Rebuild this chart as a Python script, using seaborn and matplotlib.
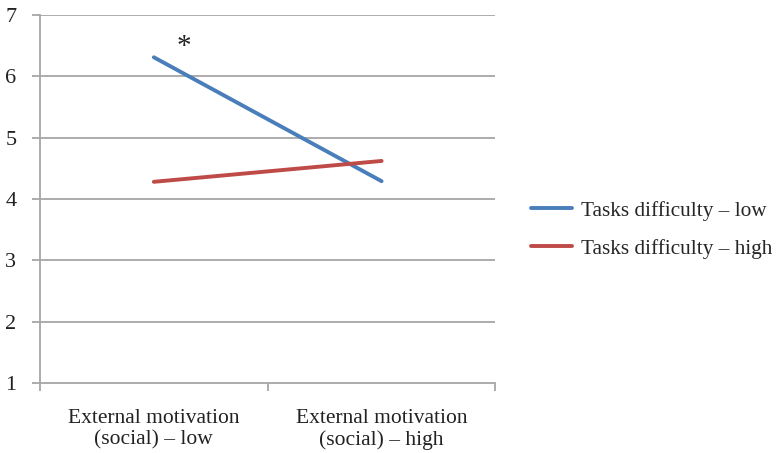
import matplotlib
matplotlib.use("Agg")
import matplotlib.pyplot as plt
import seaborn as sns
import pandas as pd

categories = ["External motivation\n(social) \u2013 low", "External motivation\n(social) \u2013 high"]
series_names = ["Tasks difficulty \u2013 low", "Tasks difficulty \u2013 high"]
low_difficulty = [6.31, 4.29]
high_difficulty = [4.28, 4.62]
y_ticks = [1, 2, 3, 4, 5, 6, 7]

df = pd.DataFrame({
    "pos": [0, 1, 0, 1],
    "value": low_difficulty + high_difficulty,
    "series": [series_names[0]] * 2 + [series_names[1]] * 2,
})

sns.set_theme(style="white")
plt.rcParams["font.family"] = ["Liberation Serif", "DejaVu Serif"]

fig = plt.figure(figsize=(7.76, 4.53), dpi=100)
ax = fig.add_axes([0.0515, 0.1545, 0.587, 0.8125])

palette = {series_names[0]: "#4a7ebb", series_names[1]: "#be4b48"}
sns.lineplot(data=df, x="pos", y="value", hue="series", palette=palette,
             linewidth=2.8, ax=ax, legend=True, zorder=3)

grid_color = "#a6a6a6"
ax.set_ylim(1, 7)
ax.set_xlim(-0.5, 1.5)
ax.set_yticks(y_ticks)
ax.set_yticklabels([str(t) for t in y_ticks])
for t in y_ticks[1:]:
    ax.axhline(t, color=grid_color, lw=1.3, zorder=1)

ax.set_xticks([0, 1])
ax.set_xticklabels(categories, linespacing=1.12)
ax.set_xticks([-0.5, 0.5, 1.5], minor=True)
ax.tick_params(axis="x", which="major", length=0, pad=19, labelsize=15.5, colors="#222222")
ax.tick_params(axis="x", which="minor", length=6, width=1.3, color=grid_color, bottom=True)
ax.tick_params(axis="y", which="major", length=6, width=1.3, color=grid_color, left=True,
               pad=11, labelsize=16, labelcolor="#222222")

for side in ["top", "right"]:
    ax.spines[side].set_visible(False)
for side in ["left", "bottom"]:
    ax.spines[side].set_color(grid_color)
    ax.spines[side].set_linewidth(1.3)

ax.set_xlabel("")
ax.set_ylabel("")

# significance marker above the low-motivation point
ax.text(0.13, 6.48, "*", ha="center", va="center", fontsize=21, color="#222222")

handles, labels = ax.get_legend_handles_labels()
ax.get_legend().remove()
fig.legend(handles, labels, loc="center left", bbox_to_anchor=(0.66, 0.493),
           frameon=False, fontsize=15.3, handlelength=1.9, labelspacing=0.85,
           handletextpad=0.45)

fig.savefig("out.png", dpi=100, facecolor="white")
